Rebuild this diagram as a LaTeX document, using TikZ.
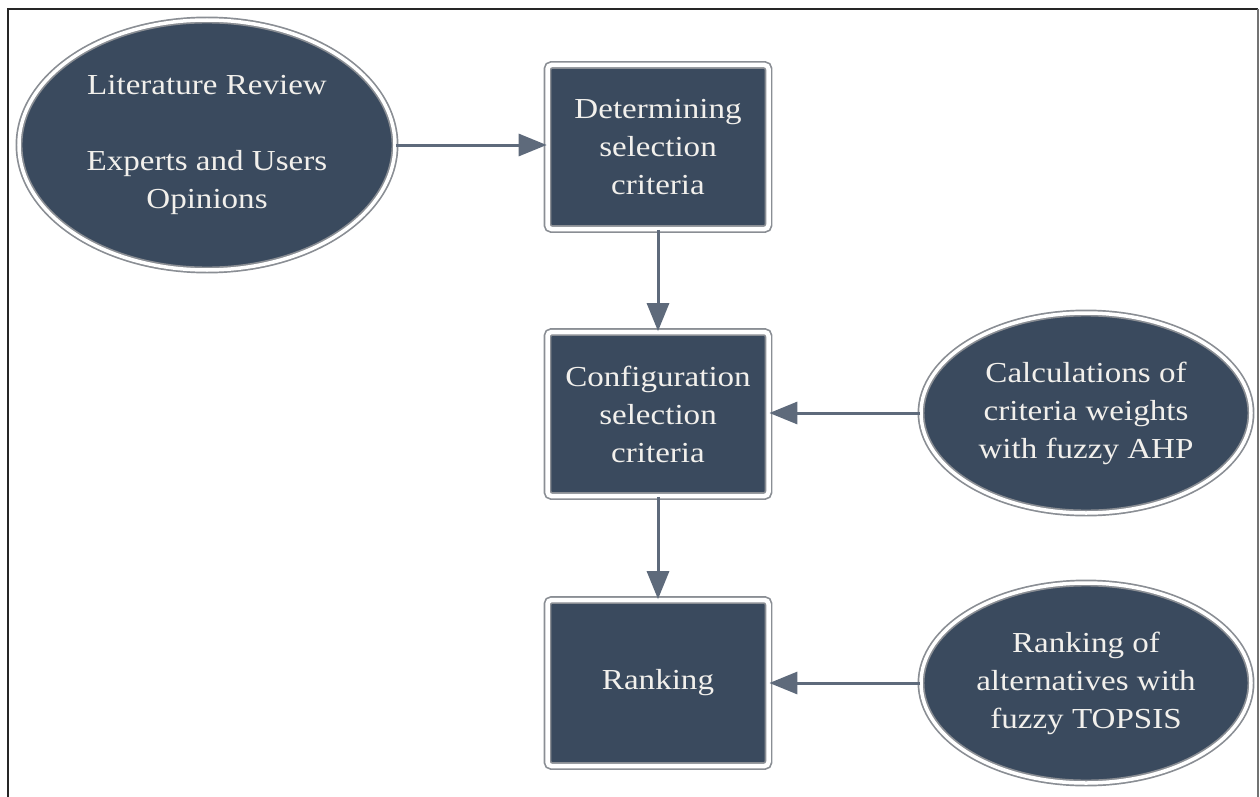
\documentclass[tikz,border=0pt]{standalone}
\usepackage{fontspec}
\setmainfont[FakeStretch=1.14]{Liberation Serif}
\usetikzlibrary{shapes.geometric,arrows.meta}
\definecolor{darkfill}{HTML}{3A4A5E}
\definecolor{arrowcol}{HTML}{5E6A7B}
\definecolor{rimcol}{HTML}{8A8E94}
\definecolor{textcol}{HTML}{F2F0EC}
\tikzset{
  stepbox/.style={rectangle, rounded corners=4pt, draw=rimcol, line width=1.7pt,
    double=white, double distance=4.5pt, fill=darkfill, inner sep=0pt,
    text=textcol, align=center, font=\fontsize{29}{38}\selectfont},
  ovalbox/.style={ellipse, draw=rimcol, line width=1.7pt,
    double=white, double distance=3.5pt, fill=darkfill, inner sep=0pt,
    text=textcol, align=center, font=\fontsize{29}{38}\selectfont},
  flow/.style={draw=arrowcol, line width=3pt, -{Triangle[length=28pt,width=22pt]}},
}
\begin{document}
\begin{tikzpicture}[x=1pt,y=-1pt]
\useasboundingbox (0,0) rectangle (1260,797);
\fill[white] (0,0) rectangle (1260,797);
% frame
\draw[line width=2.5pt, black!85] (8,800) -- (8,9) -- (1258,9);
\draw[line width=1.5pt, black!55] (1258,9) -- (1258,800);
% boxes
\node[stepbox, minimum width=221pt, minimum height=164pt] (b1) at (658,147) {Determining\\selection\\criteria};
\node[stepbox, minimum width=221pt, minimum height=164pt] (b2) at (658,414) {Configuration\\selection\\criteria};
\node[stepbox, minimum width=221pt, minimum height=166pt] (b3) at (658,683) {Ranking};
% ellipses
\node[ovalbox, minimum width=376pt, minimum height=250pt] (e1) at (207,145) {Literature Review\\[38pt]Experts and Users\\Opinions};
\node[ovalbox, minimum width=330pt, minimum height=200pt] (e2) at (1086,413) {Calculations of\\criteria weights\\with fuzzy AHP};
\node[ovalbox, minimum width=330pt, minimum height=200pt] (e3) at (1086,683) {Ranking of\\alternatives with\\fuzzy TOPSIS};
% connectors
\draw[flow] (e1.east) -- (b1.west |- e1.east);
\draw[flow] (b1.south) -- (b2.north);
\draw[flow] (b2.south) -- (b3.north);
\draw[flow] (e2.west) -- (b2.east |- e2.west);
\draw[flow] (e3.west) -- (b3.east |- e3.west);
\end{tikzpicture}
\end{document}
